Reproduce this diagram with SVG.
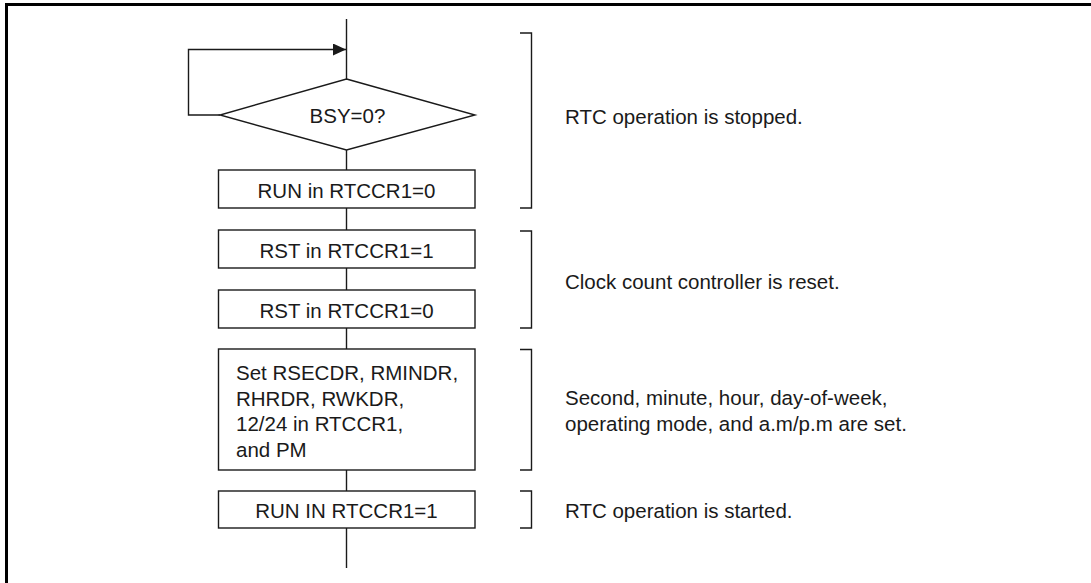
<svg xmlns="http://www.w3.org/2000/svg" width="1091" height="583" viewBox="0 0 1091 583">
<defs>
<style>
.frame{fill:none;stroke:#000;stroke-width:3}
.shape{fill:#fff;stroke:#1a1a1a;stroke-width:1.4}
.ln{fill:none;stroke:#1a1a1a;stroke-width:1.4}
.br{fill:none;stroke:#1a1a1a;stroke-width:1.4}
text{font-family:"Liberation Sans",Arial,sans-serif;font-size:20.5px;fill:#1a1a1a}
.c{text-anchor:middle}
</style>
<marker id="ah" viewBox="0 0 13 12" refX="13" refY="6" markerWidth="13" markerHeight="12" markerUnits="userSpaceOnUse" orient="auto">
<path d="M0,0 L13,6 L0,12 Z" fill="#1a1a1a"/>
</marker>
</defs>
<rect width="1091" height="583" fill="#fff"/>
<path class="frame" d="M6.5,583 V4.5 H1091"/>
<g id="connectors">
<line class="ln" x1="346.5" y1="19" x2="346.5" y2="79"/>
<path class="ln" d="M220,115 H188.5 V49.5 H346" marker-end="url(#ah)"/>
<line class="ln" x1="346.5" y1="150" x2="346.5" y2="170"/>
<line class="ln" x1="346.5" y1="208" x2="346.5" y2="230"/>
<line class="ln" x1="346.5" y1="268" x2="346.5" y2="290"/>
<line class="ln" x1="346.5" y1="328" x2="346.5" y2="349"/>
<line class="ln" x1="346.5" y1="470" x2="346.5" y2="491"/>
<line class="ln" x1="346.5" y1="528" x2="346.5" y2="568"/>
</g>
<g id="n_bsy">
<polygon class="shape" points="346.5,79 475,115 346.5,150 220,115"/>
<text class="c" x="347.5" y="122.5">BSY=0?</text>
</g>
<g id="n_run0">
<rect class="shape" x="218.5" y="170" width="256.5" height="38"/>
<text class="c" x="346.5" y="197.5">RUN in RTCCR1=0</text>
</g>
<g id="n_rst1">
<rect class="shape" x="218.5" y="230" width="256.5" height="38"/>
<text class="c" x="346.5" y="257.5">RST in RTCCR1=1</text>
</g>
<g id="n_rst0">
<rect class="shape" x="218.5" y="290" width="256.5" height="38"/>
<text class="c" x="346.5" y="317.5">RST in RTCCR1=0</text>
</g>
<g id="n_set">
<rect class="shape" x="218.5" y="349" width="256.5" height="121"/>
<text x="236" y="380">Set RSECDR, RMINDR,</text>
<text x="236" y="405.5">RHRDR, RWKDR,</text>
<text x="236" y="431">12/24 in RTCCR1,</text>
<text x="236" y="456.5">and PM</text>
</g>
<g id="n_run1">
<rect class="shape" x="218.5" y="491" width="256.5" height="37"/>
<text class="c" x="346.5" y="517.5">RUN IN RTCCR1=1</text>
</g>
<g id="b_stop">
<path class="br" d="M520,33 H531.5 V208 H520"/>
<text x="565" y="124">RTC operation is stopped.</text>
</g>
<g id="b_reset">
<path class="br" d="M520,231 H531.5 V328 H520"/>
<text x="565" y="288.5">Clock count controller is reset.</text>
</g>
<g id="b_set">
<path class="br" d="M520,349.5 H531.5 V470 H520"/>
<text x="565" y="405">Second, minute, hour, day-of-week,</text>
<text x="565" y="431">operating mode, and a.m/p.m are set.</text>
</g>
<g id="b_start">
<path class="br" d="M520,491 H531.5 V528 H520"/>
<text x="565" y="517.5">RTC operation is started.</text>
</g>
</svg>
